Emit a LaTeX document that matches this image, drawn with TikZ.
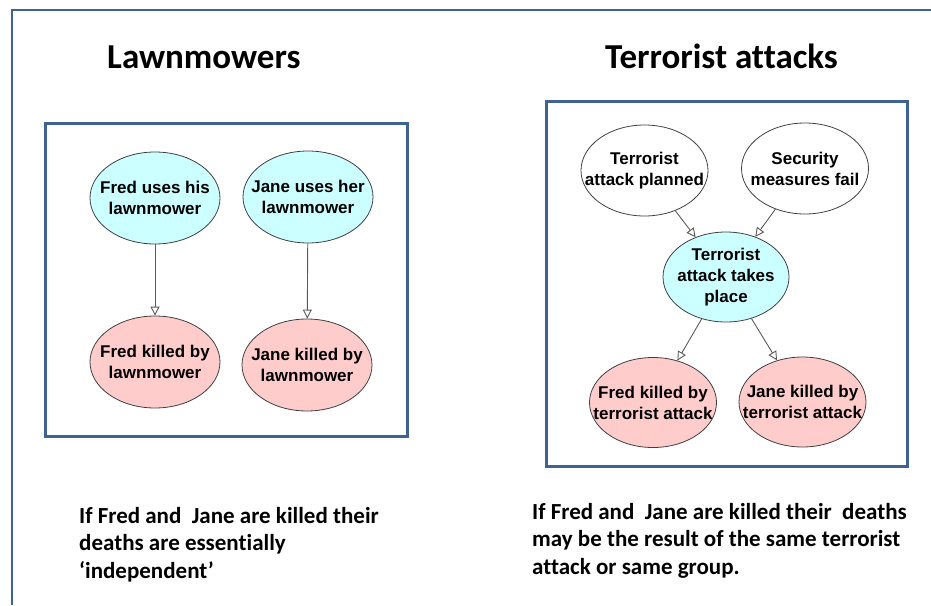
\documentclass[tikz,border=0pt]{standalone}
\usepackage{fontspec}
\setmainfont{Liberation Sans}
\newfontfamily\calib[Ligatures=CommonOff]{Carlito}
\usetikzlibrary{shapes.geometric,arrows.meta}
\definecolor{frameblue}{HTML}{3F6294}
\definecolor{nodecyan}{HTML}{CCFFFF}
\definecolor{nodepink}{HTML}{FFCCCC}
\definecolor{edgegray}{HTML}{5A5A5A}
\tikzset{
  bn/.style={ellipse, draw=black!75, line width=0.8pt, inner sep=0pt,
    minimum width=130pt, minimum height=92pt},
  cyanbn/.style={bn, fill=nodecyan},
  pinkbn/.style={bn, fill=nodepink},
  whitebn/.style={bn, fill=white},
  lbl/.style={label={[align=center, font=\bfseries\fontsize{17}{21}\selectfont]center:#1}},
  edge/.style={draw=edgegray, line width=0.9pt, -{Triangle[length=9pt,width=9pt,fill=white]}},
  panel/.style={draw=frameblue, line width=3pt},
  title/.style={anchor=base west, font=\calib\bfseries\fontsize{35}{40}\selectfont, inner sep=0pt},
  caption/.style={anchor=base west, align=left, font=\calib\bfseries\fontsize{23}{27.3}\selectfont, inner sep=0pt},
}
\begin{document}
\begin{tikzpicture}[x=1pt,y=-1pt]
\useasboundingbox (0,0) rectangle (931,605);
% outer frame
\draw[frameblue, line width=1.5pt] (12,605) -- (12,10) -- (931,10);
% titles
\node[title] (t1) at (107,68) {Lawnmowers};
\node[title] (t2) at (605,68) {Terrorist attacks};
% panels
\draw[panel] (45,123) rectangle (407,436);
\draw[panel] (546,101) rectangle (907,466);
% left network
\node[cyanbn, lbl={Fred uses his\\lawnmower}] (fu) at (155,198) {};
\node[cyanbn, lbl={Jane uses her\\lawnmower}] (ju) at (308,197) {};
\node[pinkbn, lbl={Fred killed by\\lawnmower}] (fk) at (155,362) {};
\node[pinkbn, lbl={Jane killed by\\lawnmower}] (jk) at (307,365) {};
\draw[edge] (fu) -- (fk);
\draw[edge] (ju) -- (jk);
% right network
\node[whitebn, minimum width=127pt, minimum height=91pt, lbl={Terrorist\\attack planned}] (tp) at (644.5,170.5) {};
\node[whitebn, minimum width=127pt, minimum height=91pt, lbl={Security\\measures fail}] (sf) at (805,168.5) {};
\node[cyanbn, minimum width=126pt, minimum height=90pt, lbl={Terrorist\\attack takes\\place}] (ta) at (726,277) {};
\node[pinkbn, minimum width=127pt, minimum height=90pt, lbl={Fred killed by\\terrorist attack}] (ft) at (653,402.5) {};
\node[pinkbn, minimum width=127pt, minimum height=90pt, lbl={Jane killed by\\terrorist attack}] (jt) at (802.5,402) {};
\draw[edge] (tp) -- (ta);
\draw[edge] (sf) -- (ta);
\draw[edge] (ta) -- (ft);
\draw[edge] (ta) -- (jt);
% captions (base anchor = baseline of last line)
\node[caption] (c1) at (79,578) {If Fred and\ \ Jane are killed their\\deaths are essentially\\‘independent’};
\node[caption] (c2) at (532,574) {If Fred and\ \ Jane are killed their\ \ deaths\\may be the result of the same terrorist\\attack or same group.};
\end{tikzpicture}
\end{document}
